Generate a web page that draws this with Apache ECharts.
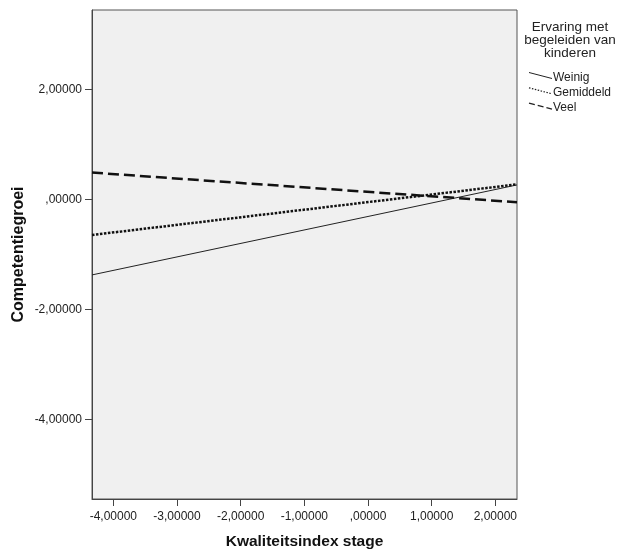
<!DOCTYPE html>
<html>
<head>
<meta charset="utf-8">
<script src="https://cdn.jsdelivr.net/npm/echarts@6/dist/echarts.min.js"></script>
<style>html,body{margin:0;padding:0;background:#fff;}#c{width:618px;height:549px;}</style>
</head>
<body>
<div id="c"></div>
<script>
var xRange = [-4.335, 2.34];
var yRange = [-5.45, 3.44];
var xTicks = [-4, -3, -2, -1, 0, 1, 2];
var yTicks = [-4, -2, 0, 2];
var seriesNames = ['Weinig', 'Gemiddeld', 'Veel'];
var xEnds = [-4.335, 2.34];
var weinig = [-1.376, 0.26];
var gemiddeld = [-0.65, 0.27];
var veel = [0.484, -0.055];
var legendTitle = 'Ervaring met\nbegeleiden van\nkinderen';

function fmt(v) {
  var s = Math.abs(v).toFixed(5).replace('.', ',');
  if (s.charAt(0) === '0') s = s.substring(1);
  return (v < 0 ? '-' : '') + s;
}
function pairs(ys) { return xEnds.map(function (x, i) { return [x, ys[i]]; }); }

var lineStyles = [
  { color: '#222', width: 1, type: 'solid' },
  { color: '#111', width: 2.5, type: [2.5, 1.5] },
  { color: '#111', width: 2.5, type: [11, 5] }
];
var legendLineStyles = [
  { stroke: '#222', lineWidth: 1 },
  { stroke: '#222', lineWidth: 1.2, lineDash: [1.5, 1.5] },
  { stroke: '#222', lineWidth: 1.2, lineDash: [6, 3] }
];

var chart = echarts.init(document.getElementById('c'));
var font = 'Arial, "Liberation Sans", sans-serif';
var legendIcons = seriesNames.map(function (n, i) {
  var y0 = 72.5 + i * 15.3;
  return { type: 'line', shape: { x1: 529, y1: y0, x2: 552, y2: y0 + 6 }, style: legendLineStyles[i], silent: true };
});
chart.setOption({
  animation: false,
  textStyle: { fontFamily: font },
  grid: { left: 92, right: 101, top: 10, bottom: 50, outerBoundsMode: 'none', containLabel: false, show: true, backgroundColor: '#f0f0f0', borderColor: '#555', borderWidth: 1 },
  title: {
    text: legendTitle, left: 570, top: 21, textAlign: 'center', padding: 0,
    textStyle: { fontSize: 13.5, fontWeight: 'normal', color: '#222', lineHeight: 13, fontFamily: font }
  },
  legend: {
    orient: 'vertical', left: 528, top: 71.5, itemGap: 3.3, itemWidth: 24, itemHeight: 12, padding: 0,
    icon: 'none',
    data: seriesNames,
    textStyle: { fontSize: 12, color: '#222', padding: [0, 0, 0, -4], fontFamily: font }
  },
  graphic: legendIcons,
  xAxis: {
    type: 'value', min: xRange[0], max: xRange[1],
    name: 'Kwaliteitsindex stage', nameLocation: 'middle', nameGap: 35, nameMoveOverlap: false,
    nameTextStyle: { fontSize: 15.5, fontWeight: 'bold', color: '#111', fontFamily: font },
    axisLine: { show: true, onZero: false, lineStyle: { color: '#444' } },
    axisTick: { show: true, length: 7, customValues: xTicks, lineStyle: { color: '#444' } },
    axisLabel: { customValues: xTicks, formatter: fmt, fontSize: 12, color: '#222', margin: 12 },
    splitLine: { show: false }
  },
  yAxis: {
    type: 'value', min: yRange[0], max: yRange[1],
    name: 'Competentiegroei', nameLocation: 'middle', nameGap: 65, nameMoveOverlap: false,
    nameTextStyle: { fontSize: 16, fontWeight: 'bold', color: '#111', fontFamily: font },
    axisLine: { show: true, onZero: false, lineStyle: { color: '#444' } },
    axisTick: { show: true, length: 7, customValues: yTicks, lineStyle: { color: '#444' } },
    axisLabel: { customValues: yTicks, formatter: fmt, fontSize: 12, color: '#222', margin: 10 },
    splitLine: { show: false }
  },
  series: seriesNames.map(function (n, i) {
    return { name: n, type: 'line', data: pairs([weinig, gemiddeld, veel][i]), symbol: 'none', lineStyle: lineStyles[i], itemStyle: { color: lineStyles[i].color } };
  })
});
</script>
</body>
</html>
